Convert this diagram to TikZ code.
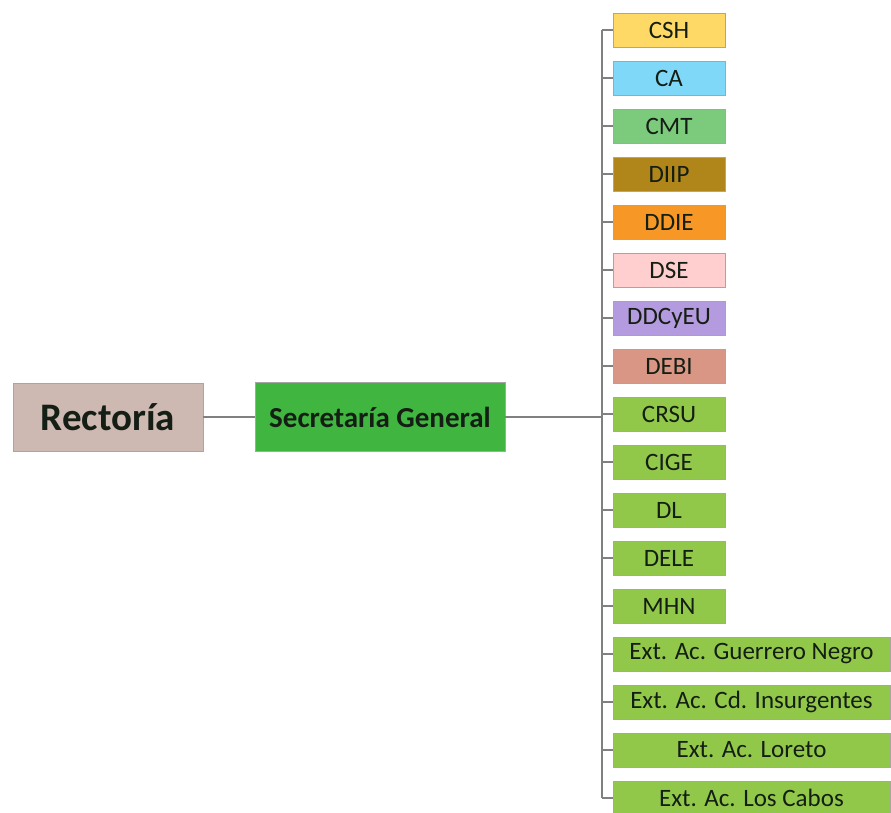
\documentclass[tikz,border=0pt]{standalone}
\usepackage{fontspec}
\setmainfont{Carlito}
\definecolor{cshc}{RGB}{255,217,102}
\definecolor{cac}{RGB}{128,216,248}
\definecolor{cmtc}{RGB}{124,202,124}
\definecolor{diipc}{RGB}{176,134,26}
\definecolor{ddiec}{RGB}{247,152,38}
\definecolor{dsec}{RGB}{255,206,206}
\definecolor{ddcc}{RGB}{180,154,222}
\definecolor{debic}{RGB}{218,150,132}
\definecolor{grc}{RGB}{146,200,74}
\definecolor{sgc}{RGB}{64,182,64}
\definecolor{rectc}{RGB}{206,184,178}
\definecolor{txtc}{RGB}{20,30,20}
\begin{document}
\begin{tikzpicture}[x=1pt,y=-1pt,
  box/.style={draw=black!35, line width=0.8pt, minimum height=34pt, inner sep=0pt,
    font=\fontsize{25}{27}\selectfont, text=txtc},
  sbox/.style={box, minimum width=112pt},
  wbox/.style={box, minimum width=277pt},
  conn/.style={draw=black!50, line width=1.3pt}]
\useasboundingbox (0,0) rectangle (891,812);
\fill[white] (0,0) rectangle (891,812);

\node[draw=black!35, line width=0.8pt, fill=rectc, minimum width=190pt, minimum height=68pt,
  inner sep=0pt, font=\bfseries\fontsize{39}{42}\selectfont, text=txtc] (rect) at (108,417) {Rectoría};
\node[draw=black!35, line width=0.8pt, fill=sgc, minimum width=250pt, minimum height=69pt,
  inner sep=0pt, font=\bfseries\fontsize{29}{32}\selectfont, text=txtc] (sg) at (380,417) {Secretaría General};

\coordinate (bus) at (602,417);

\node[sbox, fill=cshc]  (n0)  at (669,30)  {CSH};
\node[sbox, fill=cac]   (n1)  at (669,78)  {CA};
\node[sbox, fill=cmtc]  (n2)  at (669,126) {CMT};
\node[sbox, fill=diipc] (n3)  at (669,174) {DIIP};
\node[sbox, fill=ddiec] (n4)  at (669,222) {DDIE};
\node[sbox, fill=dsec]  (n5)  at (669,270) {DSE};
\node[sbox, fill=ddcc]  (n6)  at (669,318) {DDCyEU};
\node[sbox, fill=debic] (n7)  at (669,366) {DEBI};
\node[sbox, fill=grc]   (n8)  at (669,414) {CRSU};
\node[sbox, fill=grc]   (n9)  at (669,462) {CIGE};
\node[sbox, fill=grc]   (n10) at (669,510) {DL};
\node[sbox, fill=grc]   (n11) at (669,558) {DELE};
\node[sbox, fill=grc]   (n12) at (669,606) {MHN};
\node[wbox, fill=grc]   (n13) at (751.5,654) {Ext. Ac. Guerrero Negro};
\node[wbox, fill=grc]   (n14) at (751.5,702) {Ext. Ac. Cd. Insurgentes};
\node[wbox, fill=grc]   (n15) at (751.5,750) {Ext. Ac. Loreto};
\node[wbox, fill=grc]   (n16) at (751.5,798) {Ext. Ac. Los Cabos};

\draw[conn] (rect) -- (sg);
\draw[conn] (sg.east) -- (bus);
\draw[conn] (n0.west -| bus) -- (n16.west -| bus);
\foreach \i in {0,...,16} {
  \draw[conn] (n\i.west) -- (n\i.west -| bus);
}
\end{tikzpicture}
\end{document}
